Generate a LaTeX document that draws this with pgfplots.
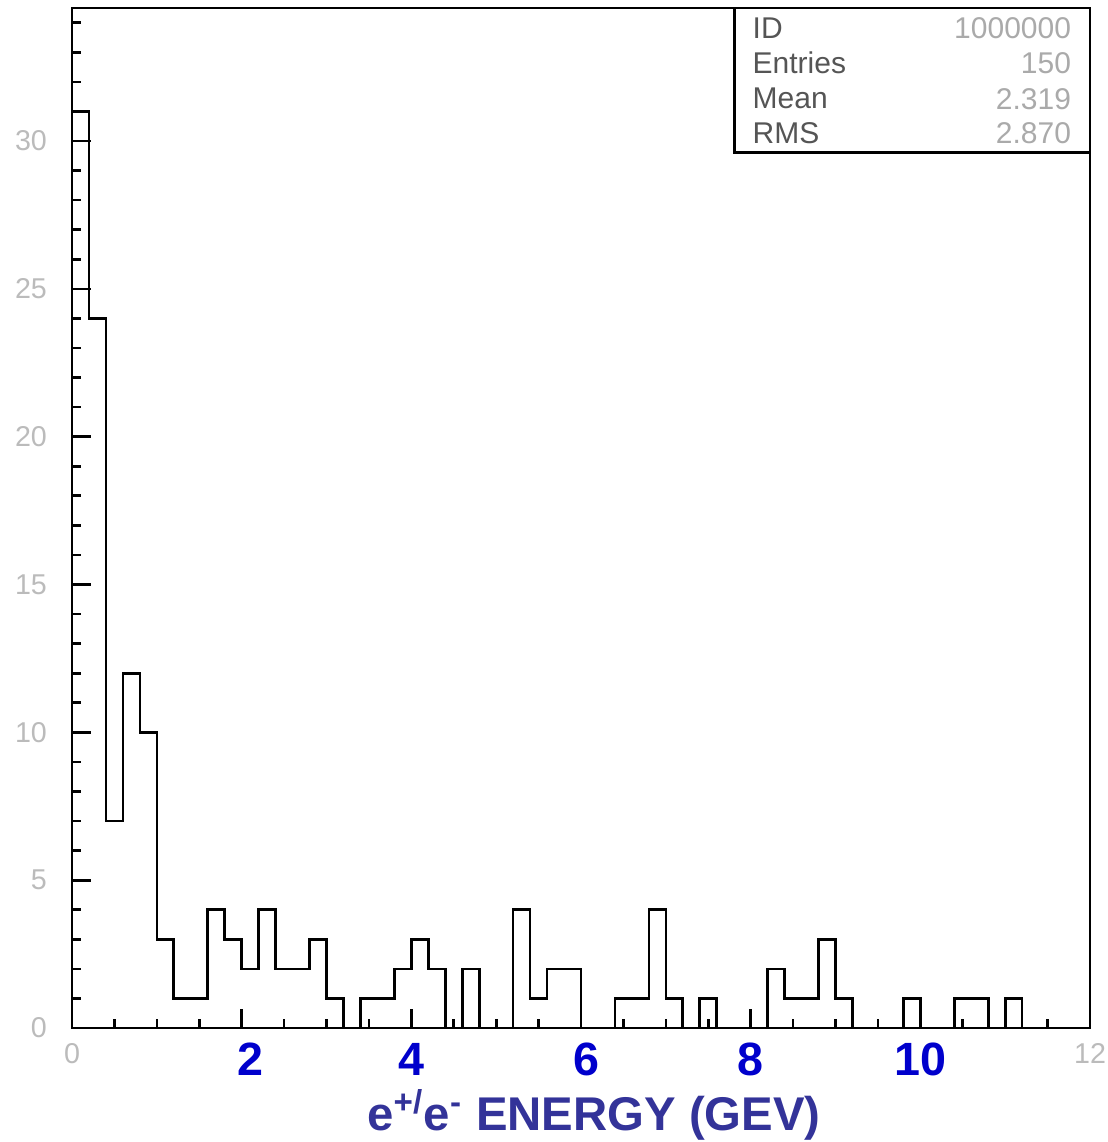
\documentclass[border=0pt]{standalone}
\usepackage{fontspec}
\setmainfont{Liberation Sans}
\usepackage{pgfplots}
\pgfplotsset{compat=1.18}
\definecolor{lblgray}{HTML}{BBBBBB}
\definecolor{tickblue}{HTML}{0000CC}
\definecolor{titleblue}{HTML}{333399}
\definecolor{statname}{HTML}{555555}
\definecolor{statval}{HTML}{AAAAAA}
\newcommand{\bl}[1]{\textcolor{tickblue}{\fontsize{14}{14}\selectfont\bfseries #1}}
\newcommand{\gl}[1]{\textcolor{lblgray}{\fontsize{8.6}{9}\selectfont #1}}
\begin{document}
\begin{tikzpicture}
\path[use as bounding box] (-21.6pt,-34.2pt) rectangle (310.5pt,308.4pt);
\begin{axis}[
  at={(0,0)}, anchor=south west,
  scale only axis, width=305.4pt, height=306pt,
  xmin=0, xmax=12, ymin=0, ymax=34.5,
  clip mode=individual,
  axis line style={line width=0.8pt},
  tick align=inside,
  xtick pos=lower, ytick pos=left,
  xtick={0,2,4,6,8,10,12},
  xticklabels={\gl{0},\hspace*{5pt}\bl{2},\bl{4},\hspace*{3pt}\bl{6},\bl{8},\bl{10},\gl{12}},
  minor xtick={0.5,1,1.5,2.5,3,3.5,4.5,5,5.5,6.5,7,7.5,8.5,9,9.5,10.5,11,11.5},
  ytick={0,5,10,15,20,25,30},
  yticklabels={\gl{0},\gl{5},\gl{10},\gl{15},\gl{20},\gl{25},\gl{30}},
  minor ytick={1,2,3,4,6,7,8,9,11,12,13,14,16,17,18,19,21,22,23,24,26,27,28,29,31,32,33,34},
  major tick length=5.7pt, minor tick length=2.8pt,
  tick style={black, line width=0.8pt},
  yticklabel style={xshift=-4pt},
  xticklabel style={yshift=-1pt},
]
\addplot[const plot, black, line width=0.8pt] coordinates {
(0,0) (0.0,31) (0.2,24) (0.4,7) (0.6,12) (0.8,10) (1.0,3) (1.2,1) (1.4,1) (1.6,4) (1.8,3)
(2.0,2) (2.2,4) (2.4,2) (2.6,2) (2.8,3) (3.0,1) (3.2,0) (3.4,1) (3.6,1) (3.8,2)
(4.0,3) (4.2,2) (4.4,0) (4.6,2) (4.8,0) (5.0,0) (5.2,4) (5.4,1) (5.6,2) (5.8,2)
(6.0,0) (6.2,0) (6.4,1) (6.6,1) (6.8,4) (7.0,1) (7.2,0) (7.4,1) (7.6,0) (7.8,0)
(8.0,0) (8.2,2) (8.4,1) (8.6,1) (8.8,3) (9.0,1) (9.2,0) (9.4,0) (9.6,0) (9.8,1)
(10.0,0) (10.2,0) (10.4,1) (10.6,1) (10.8,0) (11.0,1) (11.2,0) (11.4,0) (11.6,0) (11.8,0) (12.0,0)
};
\draw[line width=0.8pt] (rel axis cs:0.651,1) -- (rel axis cs:0.651,0.858) -- (rel axis cs:1,0.858);
\begin{scope}[every node/.style={font=\fontsize{9}{10}\selectfont, inner sep=0pt}]
\node[anchor=west, text=statname] at (rel axis cs:0.668,0.980) {ID};
\node[anchor=west, text=statname] at (rel axis cs:0.668,0.946) {Entries};
\node[anchor=west, text=statname] at (rel axis cs:0.668,0.911) {Mean};
\node[anchor=west, text=statname] at (rel axis cs:0.668,0.877) {RMS};
\node[anchor=east, text=statval] at (rel axis cs:0.982,0.980) {1000000};
\node[anchor=east, text=statval] at (rel axis cs:0.982,0.946) {150};
\node[anchor=east, text=statval] at (rel axis cs:0.982,0.911) {2.319};
\node[anchor=east, text=statval] at (rel axis cs:0.982,0.877) {2.870};
\end{scope}
\end{axis}
\node[text=titleblue, font=\fontsize{14.2}{15}\selectfont\bfseries, inner sep=0pt] at (156.6pt,-26pt) {e\textsuperscript{+/}e\textsuperscript{-} ENERGY (GEV)};
\end{tikzpicture}
\end{document}
